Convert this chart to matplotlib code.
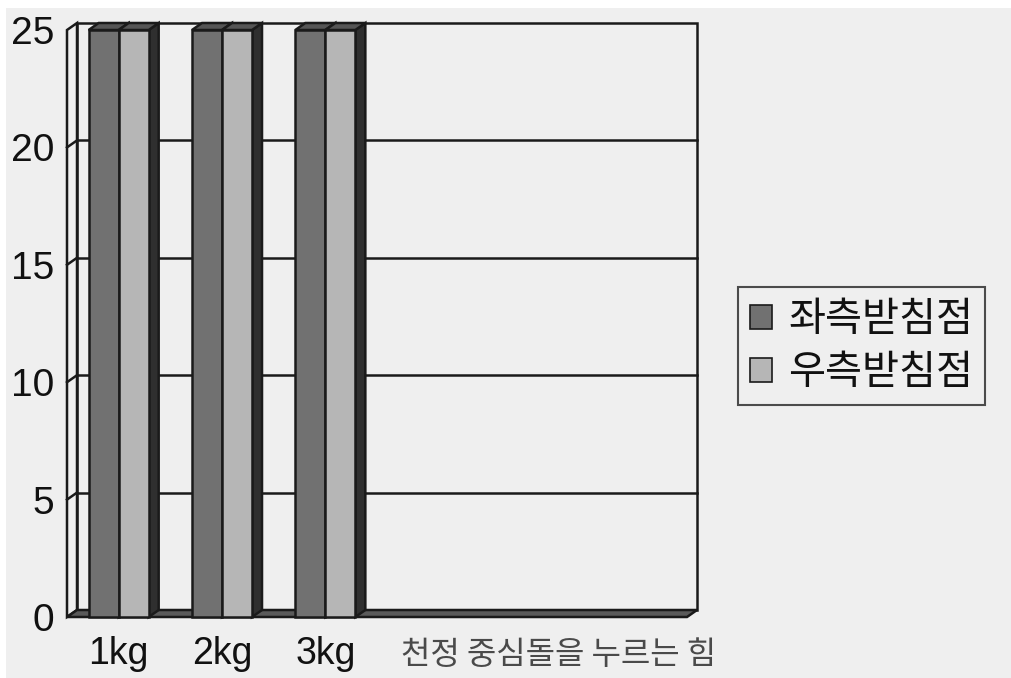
import matplotlib
matplotlib.use("Agg")
import matplotlib.pyplot as plt
from matplotlib.patches import Polygon, Rectangle, Patch

# ---- data ----
categories = ["1kg", "2kg", "3kg"]
left_support = [25, 25, 25]     # 좌측받침점
right_support = [25, 25, 25]    # 우측받침점
series_names = ["좌측받침점", "우측받침점"]
axis_title = "천정 중심돌을 누르는 힘"
y_ticks = [0, 5, 10, 15, 20, 25]
n_slots = 6

# ---- style ----
BG = "#efefef"
DARK = "#717171"
LIGHT = "#b6b6b6"
SIDE = "#2f2f2f"
TOP = "#555555"
FLOOR = "#5a5a5a"
EDGE = "#1a1a1a"

num_font = ["Liberation Sans Narrow", "Liberation Sans", "DejaVu Sans"]
kr_font = ["Noto Sans CJK KR", "DejaVu Sans"]

W, H = 1012, 678
fig = plt.figure(figsize=(W / 100, H / 100), dpi=100, facecolor="white")
fig.patches.append(Rectangle((6 / W, 0), 1, 1 - 8 / H, transform=fig.transFigure,
                             facecolor=BG, edgecolor="none", zorder=-10))

# axes rectangle covers front-left corner to back-right corner of the 3D box
ax_l, ax_r, ax_t, ax_b = 67, 697, 23, 617
ax = fig.add_axes([ax_l / W, (H - ax_b) / H, (ax_r - ax_l) / W, (ax_b - ax_t) / H])
ax.set_facecolor("none")

px_per_slot = 103.3
dx = 10 / px_per_slot                    # depth offset along x
ymax_front = 25
px_per_unit = (ax_b - 30) / ymax_front
dy = 7 / px_per_unit                     # depth offset along y
ax.set_xlim(0, n_slots + dx)
ax.set_ylim(0, ymax_front + dy)

for s in ax.spines.values():
    s.set_visible(False)

lw = 1.8
top_val = max(y_ticks)

# back wall and left wall
ax.add_patch(Rectangle((dx, dy), n_slots, top_val, facecolor=BG, edgecolor=EDGE,
                       linewidth=lw, clip_on=False, zorder=1))
ax.add_patch(Polygon([(0, 0), (dx, dy), (dx, top_val + dy), (0, top_val)], closed=True,
                     facecolor=BG, edgecolor=EDGE, linewidth=lw, clip_on=False, zorder=1))

# gridlines on back wall and left wall
for v in y_ticks[1:-1]:
    ax.plot([dx, n_slots + dx], [v + dy, v + dy], color=EDGE, lw=lw, zorder=2, clip_on=False)
    ax.plot([0, dx], [v, v + dy], color=EDGE, lw=lw, zorder=2, clip_on=False)

# floor
ax.add_patch(Polygon([(0, 0), (n_slots, 0), (n_slots + dx, dy), (dx, dy)], closed=True,
                     facecolor=FLOOR, edgecolor=EDGE, linewidth=lw, clip_on=False, zorder=3))


def bar3d(x0, w, v, face, z):
    ax.add_patch(Polygon([(x0 + w, 0), (x0 + w + dx, dy), (x0 + w + dx, v + dy), (x0 + w, v)],
                         closed=True, facecolor=SIDE, edgecolor=EDGE, linewidth=lw,
                         clip_on=False, zorder=z))
    ax.add_patch(Polygon([(x0, v), (x0 + dx, v + dy), (x0 + w + dx, v + dy), (x0 + w, v)],
                         closed=True, facecolor=TOP, edgecolor=EDGE, linewidth=lw,
                         clip_on=False, zorder=z))
    ax.add_patch(Rectangle((x0, 0), w, v, facecolor=face, edgecolor=EDGE, linewidth=lw,
                           clip_on=False, zorder=z + 0.5))


bw = 30 / px_per_slot
centers = [i + 0.5 for i in range(len(categories))]
for i, c in enumerate(centers):
    bar3d(c - bw, bw, left_support[i], DARK, 4 + i * 2)
    bar3d(c, bw, right_support[i], LIGHT, 5 + i * 2)

# axis labels
ax.set_yticks(y_ticks)
ax.set_yticklabels([str(t) for t in y_ticks], family=num_font, fontsize=28, color="#111111")
ax.set_xticks(centers)
ax.set_xticklabels(categories, family=num_font, fontsize=27, color="#111111")
ax.tick_params(axis="y", length=0, pad=9)
ax.tick_params(axis="x", length=0, pad=14)

ax.text((559 - ax_l) / (ax_r - ax_l), -(655 - ax_b) / (ax_b - ax_t), axis_title,
        transform=ax.transAxes, ha="center", va="center", family=kr_font,
        fontsize=23, color="#4a4a4a")

# legend
handles = [Patch(facecolor=DARK, edgecolor=EDGE, linewidth=1.2),
           Patch(facecolor=LIGHT, edgecolor=EDGE, linewidth=1.2)]
leg = fig.legend(handles, series_names, loc="upper left",
                 bbox_to_anchor=(738 / W, 1 - 287 / H), bbox_transform=fig.transFigure,
                 prop={"family": kr_font, "size": 29}, frameon=True, fancybox=False,
                 handlelength=0.55, handleheight=0.55, handletextpad=0.4,
                 borderpad=0.3, labelspacing=0.3, borderaxespad=0)
leg.get_frame().set_edgecolor("#222222")
leg.get_frame().set_linewidth(1.5)
leg.get_frame().set_facecolor(BG)
for t in leg.get_texts():
    t.set_color("#111111")

fig.savefig("out.png", dpi=100, facecolor=fig.get_facecolor())
